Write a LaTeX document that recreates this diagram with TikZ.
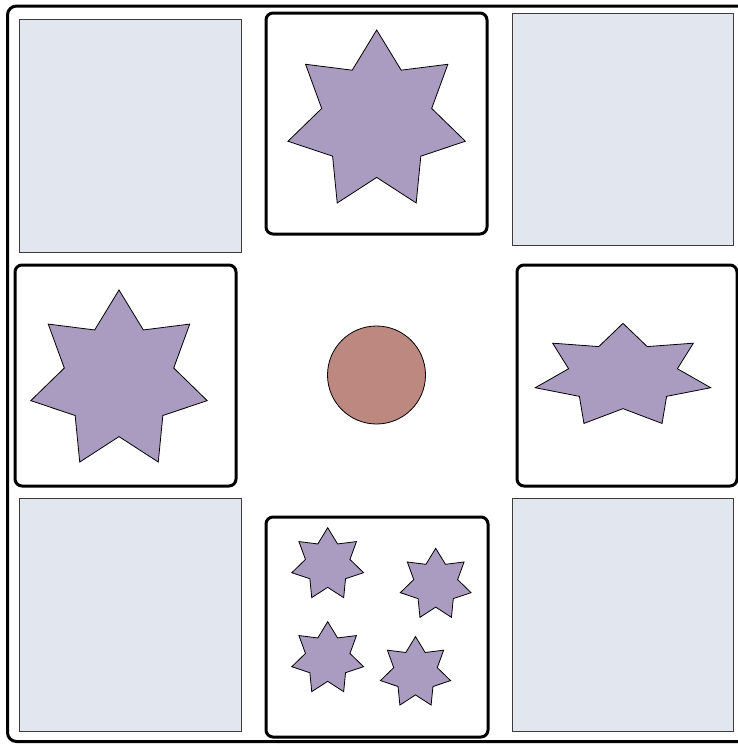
\documentclass[tikz,border=0pt]{standalone}
\usetikzlibrary{calc}
\definecolor{starfill}{RGB}{170,155,192}
\definecolor{ballfill}{RGB}{188,136,128}
\definecolor{greyfill}{RGB}{226,230,239}
\definecolor{greyline}{RGB}{60,60,60}
\tikzset{
  greybox/.style={draw=greyline, line width=0.9pt, fill=greyfill},
  framebox/.style={draw=black, line width=3pt, fill=white, rounded corners=7pt},
  starsty/.style={draw=black, line width=0.8pt, fill=starfill, line join=miter},
  ballsty/.style={circle, draw=black, line width=0.8pt, fill=ballfill, inner sep=0pt, minimum size=98pt}
}
% #1 cx, #2 cy, #3 outer radius, #4 yscale
\newcommand\sevenstar[4]{%
  \draw[starsty] (#1,{#2-#3*#4})
    \foreach \k in {1,...,13}{
      -- ({#1+#3*(1-0.38*mod(\k,2))*sin(\k*180/7)},{#2-#3*(1-0.38*mod(\k,2))*cos(\k*180/7)*#4})
    } -- cycle;}
\begin{document}
\begin{tikzpicture}[x=1pt,y=-1pt]
\useasboundingbox (0,0) rectangle (738,745);
% outer frame
\draw[line width=3pt, rounded corners=9pt] (7.5,6) rectangle (760,741.5);
% grey corner boxes
\draw[greybox] (19,19) rectangle (241,252);
\draw[greybox] (512,13) rectangle (733,245);
\draw[greybox] (19,498) rectangle (241,731);
\draw[greybox] (512,498) rectangle (733,731);
% framed boxes
\draw[framebox] (266,13) rectangle (487,234);
\draw[framebox] (15,265) rectangle (236,486);
\draw[framebox] (517,265) rectangle (737,486);
\draw[framebox] (266,517) rectangle (488,737);
% centre ball
\node[ballsty] (ball) at (376.5,375) {};
% stars
\sevenstar{376.7}{121}{91}{1}
\sevenstar{119}{380.5}{90.5}{1}
\sevenstar{623}{376}{90}{0.585}
\sevenstar{327.7}{564.5}{36.8}{1}
\sevenstar{435.7}{584.6}{36.3}{1}
\sevenstar{327.7}{658.5}{36.8}{1}
\sevenstar{415.5}{672.6}{36}{1}
\end{tikzpicture}
\end{document}
